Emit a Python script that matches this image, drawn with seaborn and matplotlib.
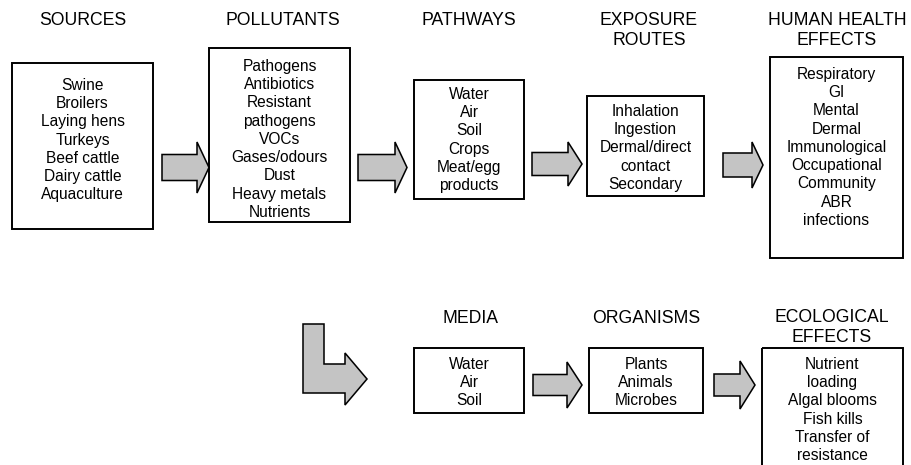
import matplotlib
matplotlib.use("Agg")
import matplotlib.pyplot as plt
from matplotlib.patches import Rectangle, Polygon
import seaborn as sns

sns.set_theme(style="white")
plt.rcParams["font.family"] = ["Liberation Sans", "DejaVu Sans"]

# stage titles and the items listed in each box
titles = ["SOURCES", "POLLUTANTS", "PATHWAYS", "EXPOSURE\nROUTES",
          "HUMAN HEALTH\nEFFECTS", "MEDIA", "ORGANISMS", "ECOLOGICAL\nEFFECTS"]

sources = ["Swine", "Broilers", "Laying hens", "Turkeys", "Beef cattle",
           "Dairy cattle", "Aquaculture"]
pollutants = ["Pathogens", "Antibiotics", "Resistant", "pathogens", "VOCs",
              "Gases/odours", "Dust", "Heavy metals", "Nutrients"]
pathways = ["Water", "Air", "Soil", "Crops", "Meat/egg", "products"]
exposure = ["Inhalation", "Ingestion", "Dermal/direct", "contact", "Secondary"]
health = ["Respiratory", "GI", "Mental", "Dermal", "Immunological",
          "Occupational", "Community", "ABR", "infections"]
media = ["Water", "Air", "Soil"]
organisms = ["Plants", "Animals", "Microbes"]
ecological = ["Nutrient", "loading", "Algal blooms", "Fish kills",
              "Transfer of", "resistance"]

items = [sources, pollutants, pathways, exposure, health, media, organisms, ecological]

# layout in pixel coords (x0, y0, x1, y1), first text line centre, title top line centre
boxes = [(12, 63, 153, 229), (209, 48, 350, 222), (414, 80, 524, 199),
         (587, 96, 704, 196), (770, 57, 903, 258), (414, 348, 524, 413),
         (589, 348, 703, 413), (762, 348, 903, 480)]
first_line = [84, 65, 93, 110, 73, 363, 363, 363]
title_y = [19, 19, 19, 19, 19, 317, 317, 316]
title_x = [83, 283, 469, 649, 837, 471, 646, 832]

# straight arrows: x start, x head, x tip, y centre, shaft half, head half
arrows = [(162, 197, 209, 167.5, 13, 25.5), (358, 395, 407, 167.5, 13, 25.5),
          (532, 568, 582, 164, 11.5, 22), (723, 752, 763, 165, 12, 23),
          (533, 567, 582, 385, 10.5, 23), (714, 740, 755, 385, 11, 24)]

W, H = 912, 465
fig = plt.figure(figsize=(W / 100, H / 100), dpi=100)
ax = fig.add_axes([0, 0, 1, 1])
ax.set_xlim(0, W)
ax.set_ylim(H, 0)
ax.axis("off")

arrow_fc = "#c4c4c4"
lw = 1.4
body_fs = 11.2
title_fs = 12.7
step = 18.3

for (x0, y0, x1, y1), lines, ty0 in zip(boxes, items, first_line):
    ax.add_patch(Rectangle((x0, y0), x1 - x0, y1 - y0, fill=False,
                           edgecolor="black", lw=lw))
    cx = (x0 + x1) / 2
    for i, s in enumerate(lines):
        ax.text(cx, ty0 + i * step + 5.6, s, ha="center", va="baseline",
                fontsize=body_fs, color="black")

for t, tx, ty in zip(titles, title_x, title_y):
    for i, s in enumerate(t.split("\n")):
        ax.text(tx, ty + i * 19.5 + 6.3, s, ha="center", va="baseline",
                fontsize=title_fs, color="black")

for xs, xh, xt, yc, sh, hh in arrows:
    pts = [(xs, yc - sh), (xh, yc - sh), (xh, yc - hh), (xt, yc),
           (xh, yc + hh), (xh, yc + sh), (xs, yc + sh)]
    ax.add_patch(Polygon(pts, closed=True, facecolor=arrow_fc,
                         edgecolor="black", lw=lw * 0.8))

# bent arrow leading from the top row down to the ecological row
bent = [(303, 324), (324, 324), (324, 364), (345, 364), (345, 353),
        (367, 379), (345, 405), (345, 393), (303, 393)]
ax.add_patch(Polygon(bent, closed=True, facecolor=arrow_fc,
                     edgecolor="black", lw=lw * 0.8))

fig.savefig("out.png", dpi=100)
